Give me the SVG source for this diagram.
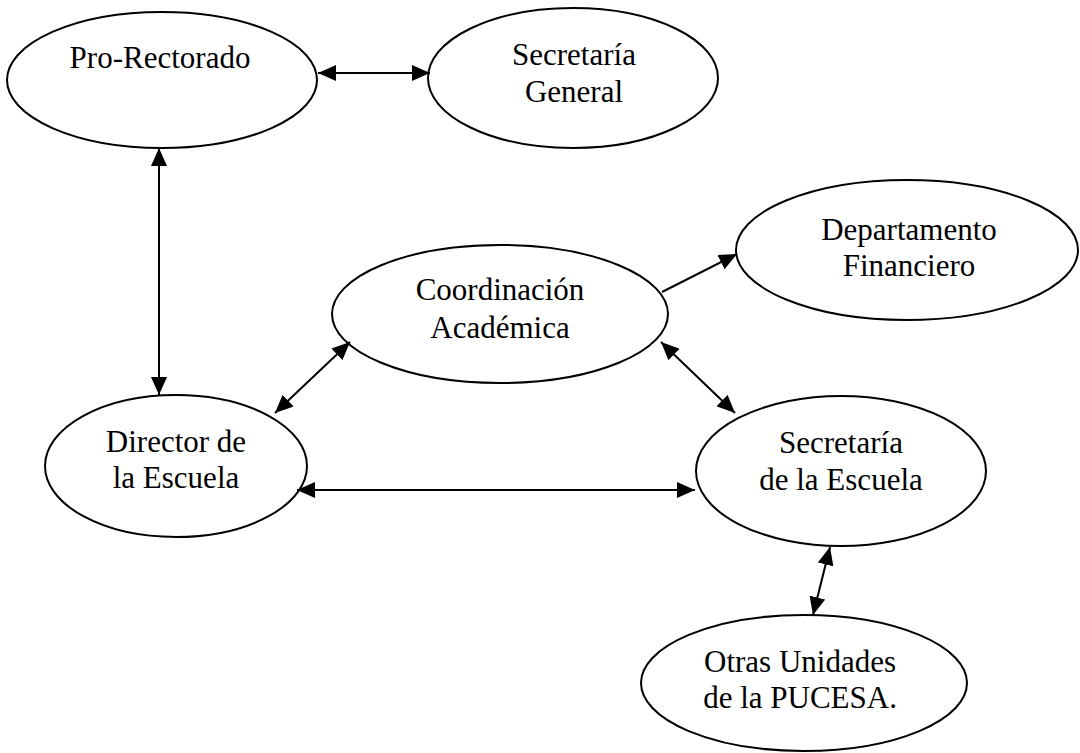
<svg xmlns="http://www.w3.org/2000/svg" width="1080" height="753" viewBox="0 0 1080 753">
<style>
.n ellipse{fill:#fff;stroke:#000;stroke-width:2}
.n text{font-family:"Liberation Serif","Times New Roman",serif;font-size:31px;fill:#000;text-anchor:middle}
.c line{stroke:#000;stroke-width:2;fill:none}
</style>
<defs>
<marker id="ah" viewBox="0 0 18 16" refX="18" refY="8" markerWidth="18" markerHeight="16" markerUnits="userSpaceOnUse" orient="auto-start-reverse">
<path d="M0,0 L18,8 L0,16 Z" fill="#000"/>
</marker>
</defs>
<rect width="1080" height="753" fill="#fff"/>
<g id="pro-rectorado" class="n"><ellipse cx="162" cy="80" rx="155" ry="68"/><text x="160" y="68">Pro-Rectorado</text></g>
<g id="secretaria-general" class="n"><ellipse cx="573" cy="78" rx="145" ry="70"/><text x="574" y="65">Secretaría</text><text x="574" y="102">General</text></g>
<g id="departamento-financiero" class="n"><ellipse cx="907" cy="250" rx="171" ry="70"/><text x="909" y="240">Departamento</text><text x="909" y="276">Financiero</text></g>
<g id="coordinacion-academica" class="n"><ellipse cx="500" cy="314" rx="168" ry="69"/><text x="500" y="300">Coordinación</text><text x="500" y="338">Académica</text></g>
<g id="director-escuela" class="n"><ellipse cx="176" cy="466" rx="131" ry="71"/><text x="176" y="452">Director de</text><text x="176" y="488">la Escuela</text></g>
<g id="secretaria-escuela" class="n"><ellipse cx="841" cy="471" rx="145" ry="75"/><text x="841" y="453">Secretaría</text><text x="841" y="490">de la Escuela</text></g>
<g id="otras-unidades" class="n"><ellipse cx="804" cy="683" rx="163" ry="68"/><text x="800" y="672">Otras Unidades</text><text x="800" y="708">de la PUCESA.</text></g>
<g id="connectors" class="c">
<line x1="318" y1="73" x2="430" y2="73" marker-start="url(#ah)" marker-end="url(#ah)"/>
<line x1="159" y1="148" x2="159" y2="395" marker-start="url(#ah)" marker-end="url(#ah)"/>
<line x1="662" y1="292" x2="737" y2="254" marker-end="url(#ah)"/>
<line x1="350" y1="342" x2="275" y2="413" marker-start="url(#ah)" marker-end="url(#ah)"/>
<line x1="661" y1="342" x2="735" y2="413" marker-start="url(#ah)" marker-end="url(#ah)"/>
<line x1="297" y1="490" x2="695" y2="490" marker-start="url(#ah)" marker-end="url(#ah)"/>
<line x1="830" y1="547" x2="813" y2="615" marker-start="url(#ah)" marker-end="url(#ah)"/>
</g>
</svg>
